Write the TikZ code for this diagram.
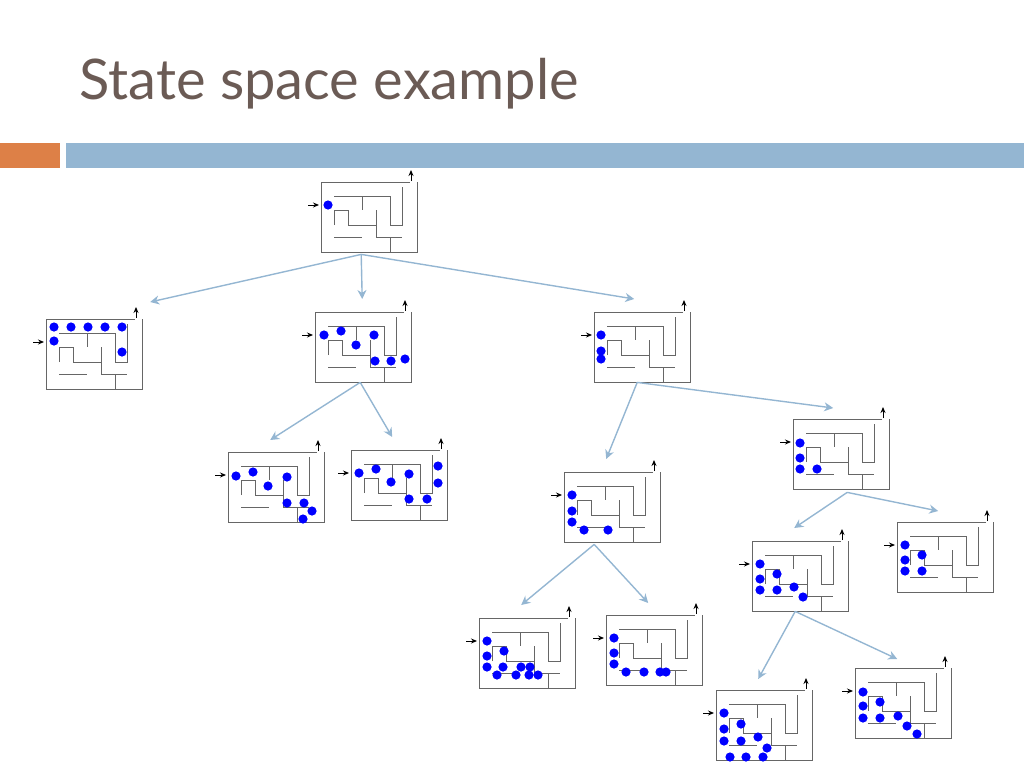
\documentclass[tikz,border=0pt]{standalone}
\usepackage{fontspec}
\setmainfont{Lato}
\usetikzlibrary{positioning, arrows.meta}

\tikzset{
    mazebox/.style={rectangle, minimum width=96pt, minimum height=70pt, inner sep=0pt},
    wall/.style={draw=black!60, line width=0.8pt},
    step arrow/.style={-{Stealth[length=9pt, width=9pt]}, draw=arrowblue, line width=1.4pt},
    door arrow/.style={-{Stealth[length=6pt, width=5pt]}, line width=0.9pt},
}
\definecolor{arrowblue}{HTML}{94B6D2}
\definecolor{barorange}{HTML}{DD8047}
\definecolor{titlegray}{HTML}{6B5B55}

% a maze with its dots: name, top-left corner, dot list
\newcommand\maze[3]{%
    \node[mazebox, anchor=north west] (#1) at (#2) {};
    \begin{scope}[shift={(#1.north west)}]
        \draw[wall] (89,0) -- (0,0) -- (0,70) -- (96,70) -- (96,0);
        \draw[wall] (13,14) -- (69,14) -- (69,43) -- (81,43) -- (81,5);
        \draw[wall] (41,14) -- (41,28);
        \draw[wall] (13,43) -- (13,28) -- (27,28) -- (27,43) -- (55,43);
        \draw[wall] (55,28) -- (55,55);
        \draw[wall] (13,55) -- (41,55);
        \draw[wall] (55,55) -- (81,55);
        \draw[wall] (69,55) -- (69,70);
        \draw[door arrow] (-13,23) -- (-2,23);
        \draw[door arrow] (90,-1) -- (90,-12);
        \foreach \dx/\dy in {#3} \fill[blue] (\dx,\dy) circle (4.6);
    \end{scope}}

\begin{document}
\begin{tikzpicture}[x=1pt, y=-1pt]
    \useasboundingbox (0,0) rectangle (1024,768);

    % title and bars
    \node[anchor=west, text=titlegray, font=\fontsize{56}{60}\selectfont] (title) at (76,84) {State space example};
    \fill[barorange] (0,143) rectangle (60,168);
    \fill[arrowblue] (66,143) rectangle (1024,168);

    % states
    \maze{root}{321,182}{7/23}
    \maze{la}{46,319}{8/8, 25/8, 42/8, 59/8, 76/8, 8/22, 76/33}
    \maze{lb}{315,312}{9/23, 26/19, 41/33, 59/23, 60/49, 76/49, 90/47}
    \maze{lc}{594,312}{7/23, 7/39, 7/47}
    \maze{lba}{228,452}{8/24, 25/20, 40/34, 59/25, 59/51, 76/51, 84/59, 75/67}
    \maze{lbb}{351,450}{8/23, 25/19, 40/32, 58/24, 87/16, 87/33, 58/49, 76/49}
    \maze{lca}{564,472}{8/23, 8/39, 8/50, 20/58, 44/58}
    \maze{lcb}{793,419}{7/24, 7/39, 7/50, 24/50}
    \maze{lcaa}{479,618}{8/23, 25/33, 8/38, 8/49, 24/49, 42/49, 51/49, 18/57, 37/57, 50/57, 59/57}
    \maze{lcab}{606,615}{8/23, 8/38, 8/49, 20/57, 38/57, 54/57, 60/57}
    \maze{lcba}{752,541}{8/23, 25/33, 8/38, 8/49, 25/49, 42/46, 51/56}
    \maze{lcbb}{897,522}{8/23, 25/33, 8/38, 8/49, 25/49}
    \maze{lcbaa}{716,690}{8/23, 25/34, 8/39, 8/51, 25/51, 42/47, 51/58, 14/67, 30/67, 47/67}
    \maze{lcbab}{855,668}{8/24, 25/34, 8/38, 8/50, 25/50, 43/48, 52/58, 62/66}

    % moves
    \draw[step arrow] ([shift={(-8,2)}]root.south) -- ([shift={(56,-17)}]la.north);
    \draw[step arrow] ([shift={(-8,2)}]root.south) -- ([shift={(-1,-13)}]lb.north);
    \draw[step arrow] ([shift={(-8,2)}]root.south) -- ([shift={(-8,-13)}]lc.north);
    \draw[step arrow] ([shift={(-3,0)}]lb.south) -- ([shift={(-6,-12)}]lba.north);
    \draw[step arrow] ([shift={(-3,0)}]lb.south) -- ([shift={(-7,-13)}]lbb.north);
    \draw[step arrow] ([shift={(-5,0)}]lc.south) -- ([shift={(-6,-13)}]lca.north);
    \draw[step arrow] ([shift={(-5,0)}]lc.south) -- ([shift={(-8,-11)}]lcb.north);
    \draw[step arrow] ([shift={(6,3)}]lcb.south) -- ([shift={(-6,-13)}]lcba.north);
    \draw[step arrow] ([shift={(6,3)}]lcb.south) -- ([shift={(-7,-11)}]lcbb.north);
    \draw[step arrow] ([shift={(-18,2)}]lca.south) -- ([shift={(-6,-13)}]lcaa.north);
    \draw[step arrow] ([shift={(-18,2)}]lca.south) -- ([shift={(-6,-12)}]lcab.north);
    \draw[step arrow] ([shift={(-5,0)}]lcba.south) -- ([shift={(-6,-11)}]lcbaa.north);
    \draw[step arrow] ([shift={(-5,0)}]lcba.south) -- ([shift={(-6,-9)}]lcbab.north);
\end{tikzpicture}
\end{document}
